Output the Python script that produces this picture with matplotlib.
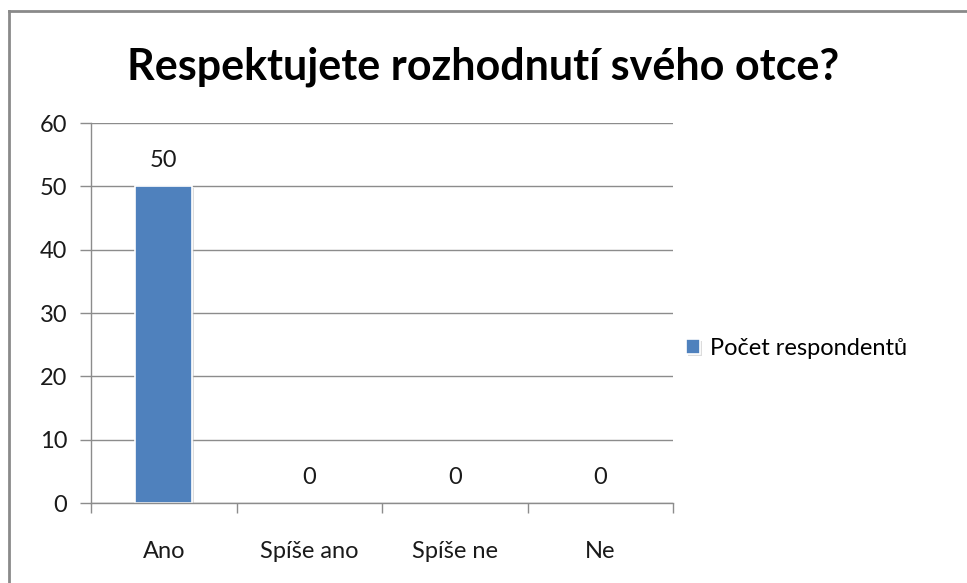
import matplotlib.pyplot as plt
from matplotlib.lines import Line2D
import matplotlib.patheffects as pe

categories = ['Ano', 'Spíše ano', 'Spíše ne', 'Ne']
values = [50, 0, 0, 0]
series_name = 'Počet respondentů'
title = 'Respektujete rozhodnutí svého otce?'

plt.rcParams['font.family'] = ['Lato', 'DejaVu Sans']
grid_col = '#8c8c8c'
bar_col = '#4f81bd'
txt_col = '#1a1a1a'

fig = plt.figure(figsize=(9.67, 5.83), dpi=100)
ax = fig.add_axes([0.0941, 0.1372, 0.6019, 0.6518])

x = range(len(categories))
edges = ['white' if v > 0 else 'none' for v in values]
bars = ax.bar(x, values, width=0.39, color=bar_col, edgecolor=edges, linewidth=1.2,
              label=series_name, zorder=2,
              path_effects=[pe.SimplePatchShadow(offset=(1.5, -1.5), shadow_rgbFace='#bbbbbb', alpha=0.5),
                            pe.Normal()])

for i, v in enumerate(values):
    ax.text(i, v + 4.1, str(v), ha='center', va='center', fontsize=17, color=txt_col)

ax.set_xlim(-0.5, len(categories) - 0.5)
ax.set_ylim(0, 60)
ax.set_yticks(range(0, 61, 10))
ax.set_xticks(x)
ax.set_xticklabels(categories)
ax.set_xticks([i - 0.5 for i in range(len(categories) + 1)], minor=True)
ax.tick_params(axis='x', which='major', length=0, pad=27, labelsize=17, labelcolor=txt_col)
ax.tick_params(axis='x', which='minor', length=7, color=grid_col, width=1)
ax.tick_params(axis='y', length=8, color=grid_col, width=1, labelsize=17, labelcolor=txt_col, pad=9)
ax.yaxis.grid(True, color=grid_col, linewidth=1)
ax.set_axisbelow(True)
for s in ['top', 'right']:
    ax.spines[s].set_visible(False)
for s in ['left', 'bottom']:
    ax.spines[s].set_color(grid_col)
    ax.spines[s].set_linewidth(1)

fig.legend(handles=[bars], labels=[series_name], loc='center left',
           bbox_to_anchor=(0.687, 0.403), frameon=False, fontsize=17,
           handlelength=0.6, handleheight=0.6, handletextpad=0.45)

fig.text(0.5, 0.885, title, ha='center', va='center', fontsize=31, fontweight='bold')

# outer chart border
fig.add_artist(Line2D([9/967, 9/967], [0, 1 - 11/583], color='#8a8a8a', linewidth=2))
fig.add_artist(Line2D([9/967, 1], [1 - 11/583, 1 - 11/583], color='#8a8a8a', linewidth=2))

fig.savefig('out.png', dpi=100, facecolor='white')
